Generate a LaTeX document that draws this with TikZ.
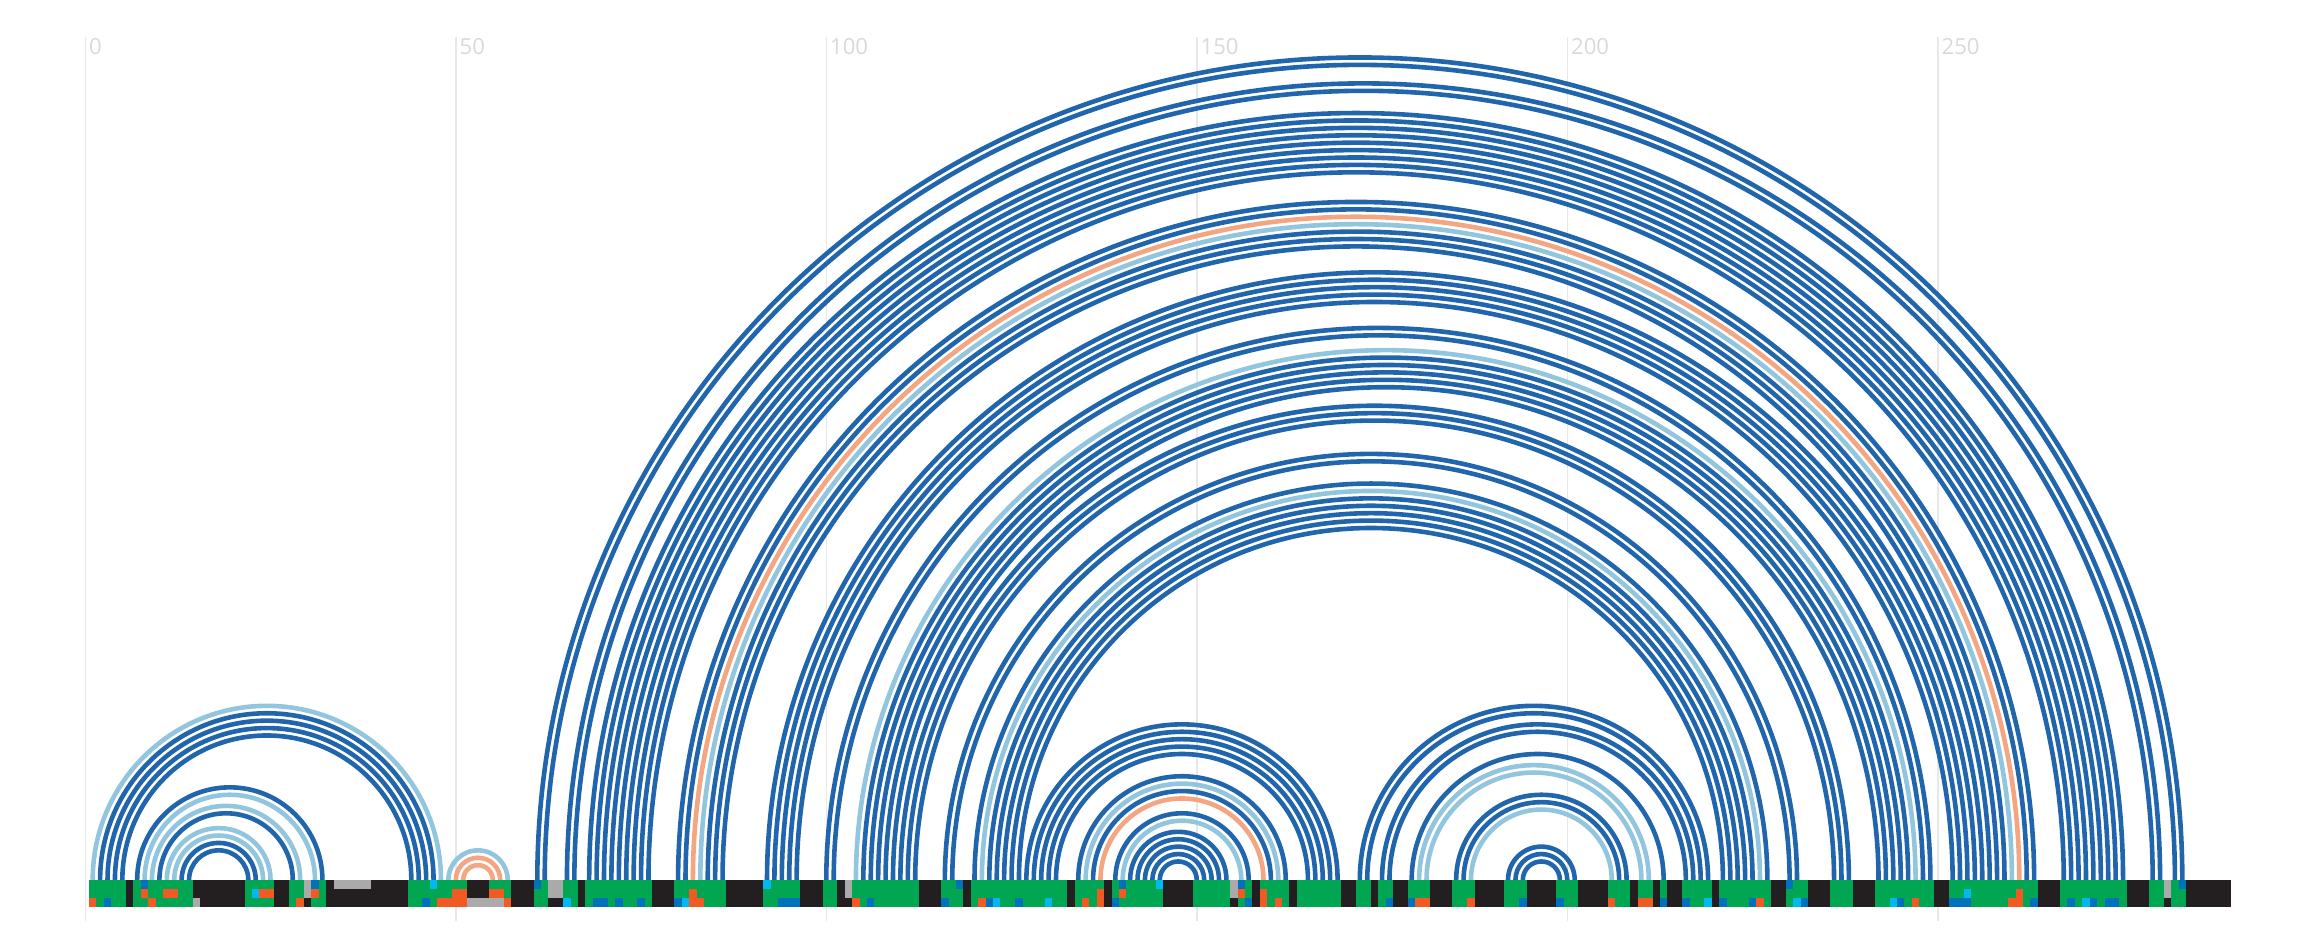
\documentclass[tikz,border=0pt]{standalone}
\usepackage{fontspec}
\setmainfont{Open Sans}
\definecolor{dk}{HTML}{2166AC}
\definecolor{lt}{HTML}{92C5DE}
\definecolor{og}{HTML}{F4A582}
\definecolor{gr}{HTML}{00A651}
\definecolor{bk}{HTML}{231F20}
\definecolor{gy}{HTML}{AAAAAA}
\definecolor{bl}{HTML}{0072BC}
\definecolor{cy}{HTML}{00B9F1}
\definecolor{rd}{HTML}{F15A22}
\definecolor{gridc}{HTML}{E8E8E8}
\definecolor{lblc}{HTML}{D9D9D9}
\newcommand\parc[3]{\draw[#3] ({89+7.41*(#1-0.5)},70) arc[start angle=180,end angle=0,radius={3.705*(#2-#1)}];}
\newcommand\bcell[4]{\fill[#4] ({89+7.41*(#2-1)},{70-9*(#1-1)}) rectangle ({89+7.41*#3},{70-9*#1});}
\begin{document}
\begin{tikzpicture}[x=0.1mm,y=0.1mm,
  arcdk/.style={draw=dk,line width=0.46mm},
  arclt/.style={draw=lt,line width=0.46mm},
  arcog/.style={draw=og,line width=0.46mm},
  gridline/.style={draw=gridc,line width=0.14mm},
  ticklabel/.style={text=lblc,font=\fontsize{6.3}{7}\selectfont,anchor=north west,inner sep=0pt}]
\useasboundingbox (0,0) rectangle (2312,950);
% grid
\foreach \n in {0,50,100,150,200,250}{
  \draw[gridline] ({85.4+7.41*\n},29) -- ({85.4+7.41*\n},913);
  \node[ticklabel] (t\n) at ({88.4+7.41*\n},912) {\n};
}
% arcs
\foreach \i/\j/\s in {
 1/48/lt, 2/47/dk, 3/46/dk, 4/45/dk, 5/44/dk,
 7/32/dk, 8/31/lt, 9/29/lt, 10/28/dk, 11/25/lt, 12/24/lt, 13/23/dk, 14/22/dk,
 49/57/lt, 50/56/og, 51/55/og,
 61/283/dk, 62/282/dk, 65/280/dk, 66/279/dk, 68/275/dk, 69/274/dk, 70/273/dk, 71/272/dk, 72/271/dk, 73/270/dk, 74/269/dk, 75/268/dk, 76/267/dk,
 80/263/dk, 81/262/dk, 82/261/og, 83/260/lt, 84/259/dk, 85/258/dk, 86/257/dk,
 92/256/dk, 93/255/dk, 94/254/dk, 95/253/dk, 96/252/dk,
 100/249/dk, 101/248/dk, 104/247/lt, 105/246/dk, 106/245/dk, 107/244/dk, 108/243/dk, 109/242/dk,
 110/238/dk, 111/237/dk, 112/236/dk, 116/231/dk, 117/230/dk,
 120/227/dk, 121/226/lt, 122/225/dk, 123/224/dk, 124/223/dk, 125/222/dk, 126/221/dk,
 127/169/dk, 128/168/dk, 129/167/dk, 130/166/dk, 131/165/dk,
 134/162/dk, 135/161/lt, 136/160/dk, 137/159/og, 139/157/dk, 140/156/lt,
 141/154/dk, 142/153/dk, 143/152/dk, 144/151/dk, 145/150/dk,
 172/219/dk, 173/218/dk, 175/217/dk, 176/216/dk, 179/213/dk, 180/211/lt, 181/210/lt,
 185/208/dk, 186/207/dk, 187/206/lt, 192/201/dk, 193/200/dk, 194/199/dk}
 {\parc{\i}{\j}{arc\s}}
% bar
\fill[bk] (89,43) rectangle ({89+7.41*289},70);
\foreach \a/\b in {1/5, 7/14, 22/25, 28/29, 31/32, 44/51, 55/57, 61/62, 65/66, 68/76, 80/86, 92/96, 100/101, 104/112, 116/118, 120/132, 134/137, 139/145, 150/154, 156/157, 159/162, 164/169, 172/173, 175/176, 179/181, 185/187, 192/194, 199/201, 206/208, 210/211, 213/213, 216/219, 221/227, 230/232, 236/238, 242/249, 252/263, 267/275, 279/280, 282/283}
 {\bcell{1}{\a}{\b}{gr}\bcell{2}{\a}{\b}{gr}\bcell{3}{\a}{\b}{gr}}
\foreach \r/\a/\b/\c in {
 3/1/1/rd, 3/9/9/rd, 3/29/29/rd, 3/48/51/rd, 3/57/57/rd, 3/82/83/rd, 3/104/104/rd, 3/121/121/rd, 3/135/135/rd, 3/137/137/rd, 3/159/159/rd, 3/161/161/rd, 3/180/181/rd, 3/187/187/rd, 3/206/206/rd, 3/210/211/rd, 3/226/226/rd, 3/247/247/rd, 3/260/261/rd,
 2/8/8/rd, 2/11/12/rd, 2/24/25/rd, 2/31/31/rd, 2/50/51/rd, 2/55/56/rd, 2/82/82/rd, 2/137/137/rd, 2/140/140/rd, 2/156/156/rd, 2/159/159/rd, 2/261/261/rd,
 3/3/3/bl, 3/46/46/bl, 3/69/70/bl, 3/72/72/bl, 3/75/75/bl, 3/80/80/bl, 3/94/96/bl, 3/106/106/bl, 3/116/116/bl, 3/122/122/bl, 3/126/126/bl, 3/139/139/bl, 3/157/157/bl, 3/176/176/bl, 3/179/179/bl, 3/194/194/bl, 3/199/199/bl, 3/213/213/bl, 3/216/216/bl, 3/221/221/bl, 3/225/225/bl, 3/232/232/bl, 3/245/245/bl, 3/252/254/bl, 3/263/263/bl, 3/268/268/bl, 3/271/271/bl, 3/273/274/bl,
 1/8/8/bl, 1/31/31/bl, 1/61/61/bl, 1/118/118/bl, 1/140/140/bl, 1/156/156/bl, 1/230/230/bl, 1/283/283/bl,
 3/65/65/cy, 3/81/81/cy, 3/123/123/cy, 3/130/130/cy, 3/219/219/cy, 3/231/231/cy, 3/244/244/cy, 3/270/270/cy,
 2/23/23/cy, 2/254/254/cy, 1/47/47/cy, 1/92/92/cy, 1/145/145/cy,
 3/15/15/gy, 3/52/56/gy, 1/34/38/gy,
 1/30/30/gy, 2/30/30/gy, 1/63/64/gy, 2/63/64/gy, 1/103/103/gy, 2/103/103/gy, 1/155/155/gy, 2/155/155/gy, 1/281/281/gy, 2/281/281/gy}
 {\bcell{\r}{\a}{\b}{\c}}
\end{tikzpicture}
\end{document}
